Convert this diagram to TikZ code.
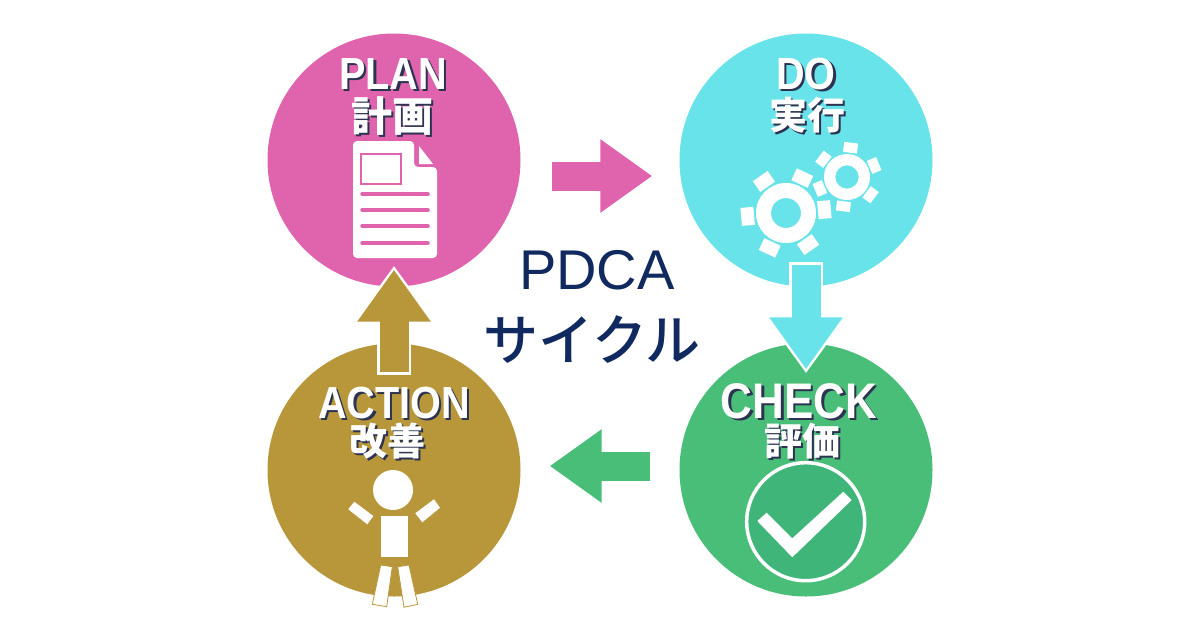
\documentclass[tikz,border=0pt]{standalone}
\usepackage{fontspec}
\setmainfont{Liberation Sans}
\newfontfamily\headfont{Liberation Sans Bold}[FakeStretch=0.88]
\newfontfamily\cjk{Noto Sans CJK JP}
\newfontfamily\cjkmedium{Noto Sans CJK JP Medium}
\usetikzlibrary{arrows.meta}
\definecolor{planpink}{HTML}{E063AE}
\definecolor{docyan}{HTML}{69E3EA}
\definecolor{checkgreen}{HTML}{48BE78}
\definecolor{checkdark}{HTML}{3FB57A}
\definecolor{actiongold}{HTML}{B8973A}
\definecolor{titlenavy}{HTML}{10295E}
\definecolor{dropdark}{HTML}{2C3350}
\newcommand{\dropped}[1]{\leavevmode\rlap{\raisebox{-2.5pt}{\hspace{2.5pt}\textcolor{dropdark}{#1}}}\textcolor{white}{#1}}
\tikzset{
	phase/.style={circle, inner sep=0pt, minimum size=253pt, draw=none},
	head/.style={inner sep=0pt, anchor=base, font=\fontsize{45}{45}\selectfont\headfont},
	kanji/.style={inner sep=0pt, font=\fontsize{38}{38}\selectfont\cjk\bfseries},
	flow/.style={line width=29pt, -{Triangle[length=52pt,width=70pt]}},
	halo/.style={preaction={draw=white, line width=34pt, shorten <=-2.5pt, shorten >=-4pt, -{Triangle[length=59pt,width=81pt]}}},
	tooth/.style={fill=white, draw=none}
}
\begin{document}
\begin{tikzpicture}[x=1pt,y=-1pt]
	\useasboundingbox (0,0) rectangle (1200,630);
	\node (PLAN) at (394, 160)	[phase, fill = planpink]	{};
	\node (DO) at (806, 160)	[phase, fill = docyan]	{};
	\node (ACTION) at (394, 470)	[phase, fill = actiongold]	{};
	\node (CHECK) at (806, 470)	[phase, fill = checkgreen]	{};

	\draw[flow, draw=planpink] ([xshift=31pt,yshift=-16pt]PLAN.east) -- ([xshift=-27pt,yshift=-16pt]DO.west);
	\draw[flow, halo, draw=docyan] ([yshift=22pt]DO.south) -- ([yshift=-26pt]CHECK.north);
	\draw[flow, draw=checkgreen] ([xshift=-29pt,yshift=4pt]CHECK.west) -- ([xshift=29pt,yshift=4pt]ACTION.east);
	\draw[flow, halo, draw=actiongold] ([yshift=-29pt]ACTION.north) -- ([yshift=17pt]PLAN.south);

	\node (planhead) at (393, 89)	[head]	{\dropped{PLAN}};
	\node (plankanji) at (392, 117)	[kanji, font=\fontsize{41}{41}\selectfont\cjk\bfseries]	{\dropped{計画}};
	\node (dohead) at (806, 89)	[head]	{\dropped{DO}};
	\node (dokanji) at (807, 116)	[kanji]	{\dropped{実行}};
	\node (actionhead) at (394, 418)	[head]	{\dropped{ACTION}};
	\node (actionkanji) at (387, 442)	[kanji]	{\dropped{改善}};
	\node (checkhead) at (799, 418)	[head, font=\fontsize{50}{50}\selectfont\headfont]	{\dropped{CHECK}};
	\node (checkkanji) at (802, 442)	[kanji]	{\dropped{評価}};

	\node (titlelatin) at (597, 270)	[inner sep=0pt, text=titlenavy, font=\fontsize{56}{56}\selectfont]	{PDCA};
	\node (titlekana) at (592, 340)	[inner sep=0pt, text=titlenavy, font=\fontsize{55}{55}\selectfont\cjkmedium]	{サイクル};

	% document
	\fill[white, rounded corners=4pt] (353, 141) -- (414, 141) -- (414, 167) -- (437, 167) -- (437, 258) -- (353, 258) -- cycle;
	\fill[white] (419, 146) -- (433, 164) -- (419, 164) -- cycle;
	\draw[planpink, line width=1.6pt] (361, 154) rectangle (401, 184);
	\foreach \liney in {194, 210, 226, 243}
		\draw[planpink, line width=3.5pt, line cap=round] (362, \liney) -- (428, \liney);

	% gears
	\fill[white, even odd rule] (786, 213) circle (30) (786, 213) circle (15);
	\foreach \ang in {5, 65, ..., 305}
		\fill[tooth, shift={(786, 213)}, rotate=\ang] (32, -9) rectangle (45, 9);
	\fill[white, even odd rule] (847, 177) circle (23) (847, 177) circle (11.7);
	\foreach \ang in {23, 83, ..., 323}
		\fill[tooth, shift={(847, 177)}, rotate=\ang] (24.5, -7) rectangle (34.5, 7);

	% check mark
	\draw[white, line width=3.5pt, fill=checkdark] (805.7, 521.7) circle (59);
	\fill[white] (757.3, 521) -- (766.7, 512.7) -- (792.3, 538.3) -- (843.3, 491.7) -- (851.7, 500) -- (792.3, 557.3) -- cycle;

	% person
	\fill[white] (393, 490) circle (20);
	\fill[white] (381, 516) rectangle (408, 557);
	\fill[white] (354.3, 501.7) -- (373.3, 516) -- (367.3, 524.3) -- (348.3, 509.3) -- cycle;
	\fill[white] (434, 499.3) -- (440, 507.7) -- (422.3, 522.3) -- (415.3, 513.3) -- cycle;
	\draw[actiongold, line width=0.8pt, fill=white] (380.7, 565) -- (392.3, 566.7) -- (386.7, 606.7) -- (372.3, 604.3) -- cycle;
	\draw[actiongold, line width=0.8pt, fill=white] (397.7, 566.7) -- (409, 565) -- (417.7, 604.3) -- (404, 607.3) -- cycle;
\end{tikzpicture}
\end{document}
